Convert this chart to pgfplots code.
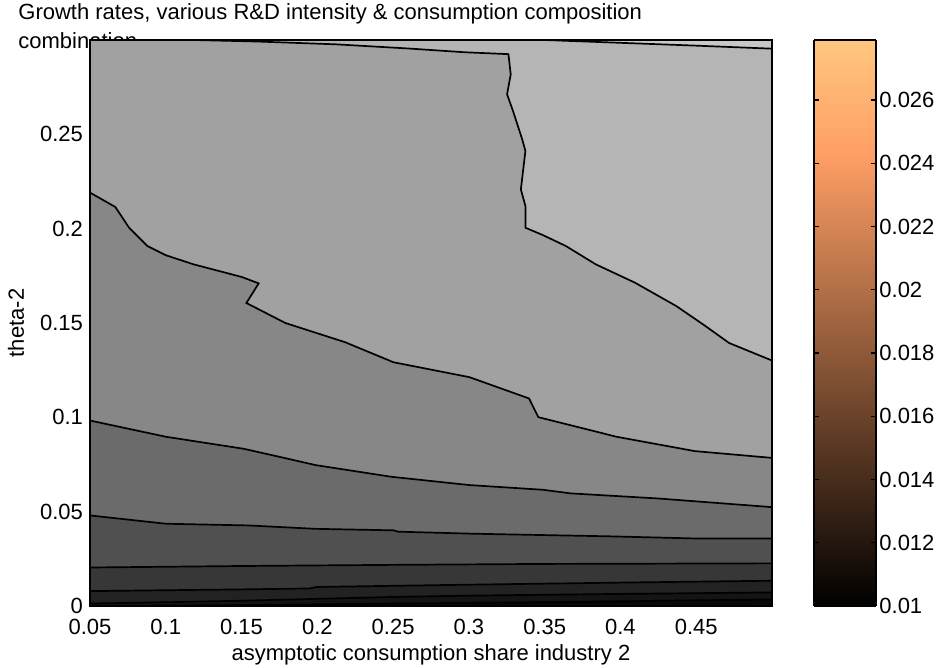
\documentclass[border=0pt]{standalone}
\usepackage{pgfplots}
\pgfplotsset{compat=1.18}
\usepackage{fontspec}
\setmainfont{Liberation Sans}
\definecolor{gA}{RGB}{200,200,200}
\definecolor{gB}{RGB}{181,181,181}
\definecolor{gC}{RGB}{161,161,161}
\definecolor{gD}{RGB}{135,135,135}
\definecolor{gE}{RGB}{107,107,107}
\definecolor{gF}{RGB}{80,80,80}
\definecolor{gG}{RGB}{55,55,55}
\definecolor{gH}{RGB}{34,34,34}
\definecolor{gI}{RGB}{20,20,20}
\definecolor{gJ}{RGB}{8,8,8}
\pgfplotsset{colormap={copper}{rgb255(0cm)=(0,0,0) rgb255(8cm)=(255,159,101) rgb255(10cm)=(255,199,127)}}
\newcommand{\tfont}{\fontsize{11}{13}\selectfont}
\begin{document}
\begin{tikzpicture}
\path[use as bounding box] (-45pt,-31pt) rectangle (426pt,303pt);
\node[anchor=base west, align=left, font=\fontsize{11}{14.5}\selectfont, inner sep=0pt] at (-36pt,278.5pt) {Growth rates, various R\&D intensity \& consumption composition\\combination};
\begin{axis}[
  at={(0pt,0pt)}, anchor=south west,
  scale only axis, width=341pt, height=283pt,
  xmin=0.05, xmax=0.5, ymin=0, ymax=0.3,
  axis on top,
  xtick={0.05,0.1,0.15,0.2,0.25,0.3,0.35,0.4,0.45},
  xticklabels={0.05,0.1,0.15,0.2,0.25,0.3,0.35,0.4,0.45},
  ytick={0,0.05,0.1,0.15,0.2,0.25},
  yticklabels={0,0.05,0.1,0.15,0.2,0.25},
  major tick length=0pt,
  tick label style={font=\tfont},
  xticklabel style={yshift=-3pt},
  label style={font=\tfont},
  axis line style={line width=1pt},
  xlabel={asymptotic consumption share industry 2},
  ylabel={theta-2},
  xlabel style={at={(axis description cs:0.5,-0.0866)}, anchor=center},
  ylabel style={at={(axis description cs:-0.1085,0.5)}, anchor=center},
]
% lightest background
\addplot[fill=gA, draw=none] coordinates {(0.05,0) (0.5,0) (0.5,0.3) (0.05,0.3)} -- cycle;
% below line T
\addplot[fill=gB, draw=black, line width=0.85pt] coordinates {
 (0.05,0.3) (0.35,0.3) (0.40,0.2985) (0.45,0.297) (0.5,0.2954) (0.5,0) (0.05,0)} -- cycle;
% below line B
\addplot[fill=gC, draw=black, line width=0.85pt] coordinates {
 (0.05,0.3) (0.118,0.3) (0.16,0.2992) (0.2123,0.2977) (0.26,0.2955) (0.2973,0.2935) (0.3261,0.2925)
 (0.3276,0.2818) (0.3252,0.2712) (0.3291,0.2624) (0.3352,0.2473) (0.3373,0.2412) (0.3343,0.2208)
 (0.3373,0.2120) (0.3373,0.2005) (0.3488,0.1966) (0.364,0.1908) (0.3837,0.1811) (0.4095,0.1714)
 (0.4368,0.159) (0.455,0.149) (0.4717,0.1394) (0.5,0.1301) (0.5,0) (0.05,0)} -- cycle;
% below L6
\addplot[fill=gD, draw=black, line width=0.85pt] coordinates {
 (0.05,0.2191) (0.0667,0.2115) (0.0758,0.2005) (0.0879,0.1908) (0.1001,0.1859) (0.1183,0.1811)
 (0.1501,0.1744) (0.1613,0.171) (0.1532,0.1606) (0.1789,0.15) (0.2184,0.1398) (0.2502,0.1292)
 (0.3003,0.1213) (0.3397,0.110) (0.3458,0.1001) (0.3974,0.0897) (0.449,0.0821) (0.5,0.0785)
 (0.5,0) (0.05,0)} -- cycle;
% below L5
\addplot[fill=gE, draw=black, line width=0.85pt] coordinates {
 (0.05,0.0983) (0.1001,0.0897) (0.1516,0.0833) (0.1759,0.0789) (0.1987,0.0747) (0.2487,0.0685)
 (0.3003,0.0641) (0.3489,0.0616) (0.3671,0.0597) (0.4247,0.057) (0.5,0.0524) (0.5,0) (0.05,0)} -- cycle;
% below L4
\addplot[fill=gF, draw=black, line width=0.85pt] coordinates {
 (0.05,0.048) (0.1001,0.0436) (0.1547,0.0427) (0.1987,0.0409) (0.2502,0.0401) (0.2533,0.0394)
 (0.3033,0.0383) (0.3944,0.0369) (0.449,0.0358) (0.5,0.0358) (0.5,0) (0.05,0)} -- cycle;
% below L3
\addplot[fill=gG, draw=black, line width=0.85pt] coordinates {
 (0.05,0.0204) (0.15,0.0212) (0.25,0.0218) (0.35,0.0223) (0.5,0.0226) (0.5,0) (0.05,0)} -- cycle;
% below L2
\addplot[fill=gH, draw=black, line width=0.85pt] coordinates {
 (0.05,0.0079) (0.15,0.0088) (0.195,0.0093) (0.2,0.0101) (0.3,0.0113) (0.4,0.0124) (0.5,0.0134)
 (0.5,0) (0.05,0)} -- cycle;
% below L1
\addplot[fill=gI, draw=black, line width=0.85pt] coordinates {
 (0.05,0.0013) (0.1,0.002) (0.15,0.0028) (0.2,0.0038) (0.25,0.0048) (0.3,0.0055) (0.4,0.0064) (0.5,0.0072)
 (0.5,0) (0.05,0)} -- cycle;
% below L0
\addplot[fill=gJ, draw=black, line width=0.85pt] coordinates {
 (0.05,0.0) (0.15,0.0005) (0.25,0.0013) (0.35,0.002) (0.45,0.003) (0.5,0.0035) (0.5,0) (0.05,0)} -- cycle;
\end{axis}
% colour bar
\begin{axis}[
  at={(362pt,0pt)}, anchor=south west,
  scale only axis, width=31pt, height=283pt,
  view={0}{90},
  xmin=0, xmax=1, ymin=0.01, ymax=0.0279,
  axis on top,
  xtick=\empty,
  ytick={0.01,0.012,0.014,0.016,0.018,0.02,0.022,0.024,0.026},
  yticklabels={0.01,0.012,0.014,0.016,0.018,0.02,0.022,0.024,0.026},
  scaled y ticks=false,
  ytick pos=both, yticklabel pos=right,
  tick align=inside, major tick length=2.5pt,
  tick style={black, line width=0.6pt},
  axis line style={line width=0.9pt},
  yticklabel style={font=\tfont, inner sep=1.5pt},
  colormap name=copper,
  point meta min=0.01, point meta max=0.0279,
]
\addplot3[surf, shader=interp, mesh/rows=3, point meta=y] table[row sep=\\] {
x y z\\
0 0.01 0\\
1 0.01 0\\
0 0.02432 0\\
1 0.02432 0\\
0 0.0279 0\\
1 0.0279 0\\
};
\end{axis}
\end{tikzpicture}
\end{document}
